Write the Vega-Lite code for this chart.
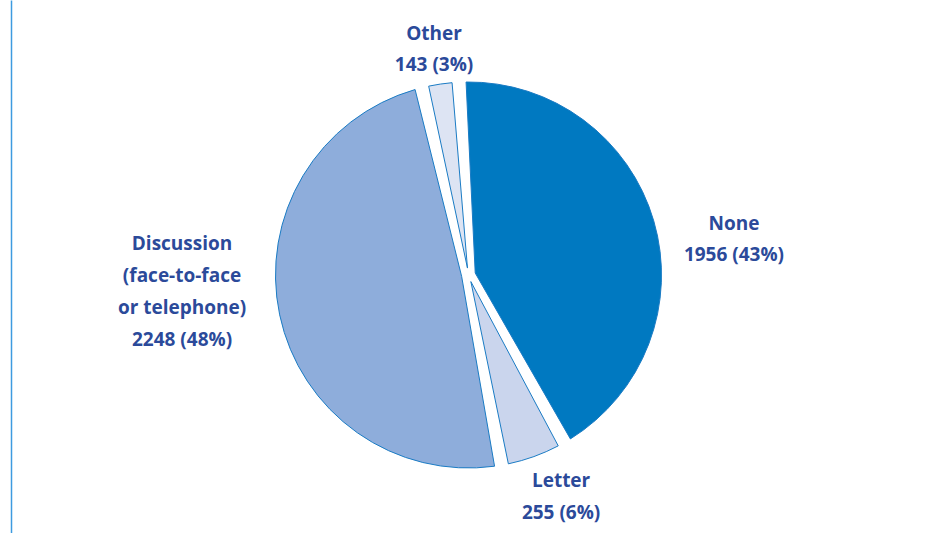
{
  "$schema": "https://vega.github.io/schema/vega-lite/v6.json",
  "autosize": {"type": "none"},
  "width": 915,
  "height": 516,
  "padding": {"left": 11, "top": 17, "right": 4, "bottom": 0},
  "background": "white",
  "config": {"view": {"stroke": null}},
  "data": {
    "values": [
      {"cat": "None", "idx": 1, "value": 1956, "label": "None\n1956 (43%)"},
      {"cat": "Letter", "idx": 2, "value": 255, "label": "Letter\n255 (6%)"},
      {"cat": "Discussion", "idx": 3, "value": 2248, "label": "Discussion\n(face-to-face\nor telephone)\n2248 (48%)"},
      {"cat": "Other", "idx": 4, "value": 143, "label": "Other\n143 (3%)"}
    ]
  },
  "layer": [
    {
      "mark": {"type": "rule", "strokeOpacity": 0},
      "encoding": {
        "y": {
          "datum": 0,
          "type": "quantitative",
          "scale": {"domain": [0, 1], "range": [516, -17]},
          "axis": {"orient": "left", "domain": true, "domainColor": "#3d9be0", "domainWidth": 1.5, "ticks": false, "labels": false, "title": null, "grid": false}
        }
      }
    },
    {
      "mark": {"type": "arc", "outerRadius": 193, "innerRadius": 7, "padAngle": 0.0726, "stroke": "#1a7bc4", "strokeWidth": 1},
      "encoding": {
        "theta": {"field": "value", "type": "quantitative", "stack": true, "scale": {"range": [-0.0489, 6.2343]}},
        "order": {"field": "idx", "type": "quantitative"},
        "color": {"field": "cat", "type": "nominal", "legend": null,
          "scale": {"domain": ["None", "Letter", "Discussion", "Other"], "range": ["#0079c1", "#cad5ed", "#8eaddb", "#dde4f3"]}}
      }
    },
    {
      "mark": {"type": "text", "radius": 243.0, "thetaOffset": 0.0042, "font": "Open Sans", "fontWeight": "bold", "fontSize": 19, "lineHeight": 31, "lineBreak": "\n", "color": "#2b4a9a", "align": "center", "baseline": "middle"},
      "encoding": {
        "theta": {"field": "value", "type": "quantitative", "stack": true},
        "order": {"field": "idx", "type": "quantitative"},
        "detail": {"field": "cat", "type": "nominal"},
        "text": {"condition": {"test": "datum.cat === 'Other'", "field": "label", "type": "nominal"}, "value": ""}
      }
    },
    {
      "mark": {"type": "text", "radius": 270.4, "thetaOffset": 0.0929, "font": "Open Sans", "fontWeight": "bold", "fontSize": 19, "lineHeight": 31, "lineBreak": "\n", "color": "#2b4a9a", "align": "center", "baseline": "middle"},
      "encoding": {
        "theta": {"field": "value", "type": "quantitative", "stack": true},
        "order": {"field": "idx", "type": "quantitative"},
        "detail": {"field": "cat", "type": "nominal"},
        "text": {"condition": {"test": "datum.cat === 'None'", "field": "label", "type": "nominal"}, "value": ""}
      }
    },
    {
      "mark": {"type": "text", "radius": 226.3, "thetaOffset": -0.0756, "font": "Open Sans", "fontWeight": "bold", "fontSize": 19, "lineHeight": 32, "lineBreak": "\n", "color": "#2b4a9a", "align": "center", "baseline": "middle"},
      "encoding": {
        "theta": {"field": "value", "type": "quantitative", "stack": true},
        "order": {"field": "idx", "type": "quantitative"},
        "detail": {"field": "cat", "type": "nominal"},
        "text": {"condition": {"test": "datum.cat === 'Letter'", "field": "label", "type": "nominal"}, "value": ""}
      }
    },
    {
      "mark": {"type": "text", "radius": 288.2, "thetaOffset": 0.3171, "font": "Open Sans", "fontWeight": "bold", "fontSize": 19, "lineHeight": 32, "lineBreak": "\n", "color": "#2b4a9a", "align": "center", "baseline": "middle"},
      "encoding": {
        "theta": {"field": "value", "type": "quantitative", "stack": true},
        "order": {"field": "idx", "type": "quantitative"},
        "detail": {"field": "cat", "type": "nominal"},
        "text": {"condition": {"test": "datum.cat === 'Discussion'", "field": "label", "type": "nominal"}, "value": ""}
      }
    }
  ]
}
